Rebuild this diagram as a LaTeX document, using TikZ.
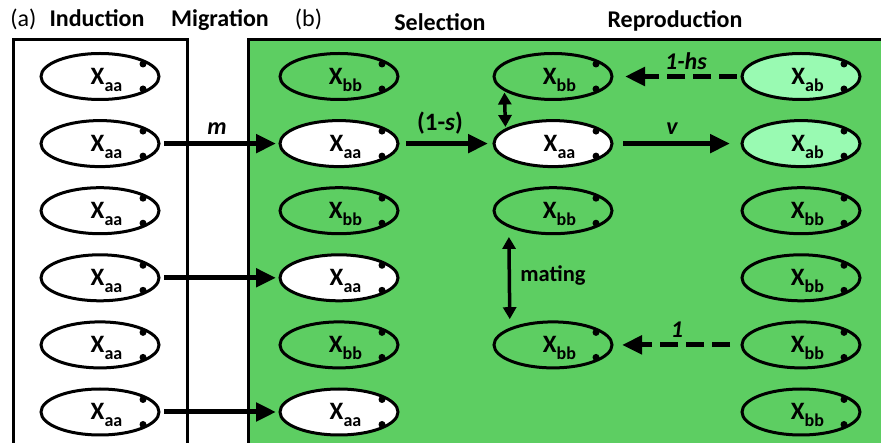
\documentclass[tikz,border=0pt]{standalone}
\usepackage{fontspec}
\setmainfont{Carlito}
\usetikzlibrary{shapes.geometric,arrows.meta,calc}
\definecolor{bggreen}{RGB}{93,206,98}
\definecolor{lightgreen}{RGB}{153,250,178}
\tikzset{
 cellshape/.style={ellipse, draw, line width=3pt, minimum width=118pt, minimum height=46pt, inner sep=0pt, outer sep=0pt},
 celltext/.style={anchor=base, inner sep=0pt, font=\fontsize{25}{25}\selectfont\bfseries},
 bigarrow/.style={line width=5pt, -{Triangle[length=20pt,width=18pt]}},
 dasharrow/.style={bigarrow, dash pattern=on 18pt off 8pt},
 dblarrow/.style={line width=3.5pt, {Triangle[length=12pt,width=13pt]}-{Triangle[length=12pt,width=13pt]}},
 header/.style={anchor=base, inner sep=0pt, font=\fontsize{24}{24}\selectfont\bfseries},
 plainheader/.style={anchor=base, inner sep=0pt, font=\fontsize{24}{24}\selectfont},
 arrowlabel/.style={inner sep=0pt, font=\fontsize{24}{24}\selectfont\bfseries\itshape},
 framebox/.style={line width=3pt},
}
\newcommand{\cellat}[5]{%
 \node[cellshape, fill=#4] (#1) at (#2,#3) {};
 \node[celltext] (#1t) at ($(#1.center)+(6.5,8)$) {X\raisebox{-7pt}{\fontsize{18}{18}\selectfont #5}};
 \fill ($(#1.center)+(43,-12.5)$) circle[radius=3.5pt];
 \fill ($(#1.center)+(43,12.5)$) circle[radius=3.5pt];
}
\begin{document}
\begin{tikzpicture}[x=1pt,y=-1pt]
\useasboundingbox (0,0) rectangle (881,443);
% panels
\fill[bggreen] (248,40) rectangle (881,443);
\draw[framebox] (248,443) -- (248,40) -- (881,40);
\draw[framebox] (13,443) -- (13,40) -- (187,40) -- (187,443);
% headers
\node[plainheader] (ha) at (23.5,27) {(a)};
\node[header] (hind) at (97,27) {Induction};
\node[header] (hmig) at (220,27) {Migration};
\node[plainheader] (hb) at (308.5,27) {(b)};
\node[header] (hsel) at (440,31) {Selection};
\node[header] (hrep) at (675,28) {Reproduction};
% column 1
\cellat{a1}{100}{76.5}{white}{aa}
\cellat{a2}{100}{143.6}{white}{aa}
\cellat{a3}{100}{210.7}{white}{aa}
\cellat{a4}{100}{277.8}{white}{aa}
\cellat{a5}{100}{344.9}{white}{aa}
\cellat{a6}{100}{412}{white}{aa}
% column 2
\cellat{b1}{339}{76.5}{none}{bb}
\cellat{b2}{339}{143.6}{white}{aa}
\cellat{b3}{339}{210.7}{none}{bb}
\cellat{b4}{339}{277.8}{white}{aa}
\cellat{b5}{339}{344.9}{none}{bb}
\cellat{b6}{339}{412}{white}{aa}
% column 3
\cellat{c1}{553}{76.5}{none}{bb}
\cellat{c2}{553}{143.6}{white}{aa}
\cellat{c3}{553}{210.7}{none}{bb}
\cellat{c5}{553}{344.9}{none}{bb}
% column 4
\cellat{d1}{801}{76.5}{lightgreen}{ab}
\cellat{d2}{801}{143.6}{lightgreen}{ab}
\cellat{d3}{801}{210.7}{none}{bb}
\cellat{d4}{801}{277.8}{none}{bb}
\cellat{d5}{801}{344.9}{none}{bb}
\cellat{d6}{801}{412}{none}{bb}
% migration arrows
\draw[bigarrow, shorten <=5pt, shorten >=4pt] (a2) -- (b2);
\draw[bigarrow, shorten <=5pt, shorten >=4pt] (a4) -- (b4);
\draw[bigarrow, shorten <=5pt, shorten >=4pt] (a6) -- (b6);
\node[arrowlabel] (lm) at (217,129) {m};
% selection
\draw[bigarrow, shorten <=8pt, shorten >=6pt] (b2) -- (c2);
\node[arrowlabel, font=\fontsize{25}{25}\selectfont\bfseries] (ls) at (440,123) {(1-\textit{s})};
% mutation
\draw[bigarrow, shorten <=11pt, shorten >=12pt] (c2) -- (d2);
\node[arrowlabel] (lv) at (672,129) {v};
% reproduction dashed
\draw[dasharrow, shorten <=5pt, shorten >=13pt] (d1) -- (c1);
\node[arrowlabel] (lhs) at (686,61) {1-hs};
\draw[dasharrow, shorten <=12pt, shorten >=10pt] (d5) -- (c5);
\node[arrowlabel] (l1) at (677,330) {1};
% double arrows
\draw[dblarrow, shorten <=3pt, shorten >=3pt] (c1.195.7) -- (c2.164.3);
\draw[dblarrow, shorten <=11pt, shorten >=10pt] (c3.199.2) -- (c5.160.8);
\node[anchor=base, inner sep=0pt, font=\fontsize{22.5}{22.5}\selectfont\bfseries] (lmat) at (553,282) {mating};
\end{tikzpicture}
\end{document}
